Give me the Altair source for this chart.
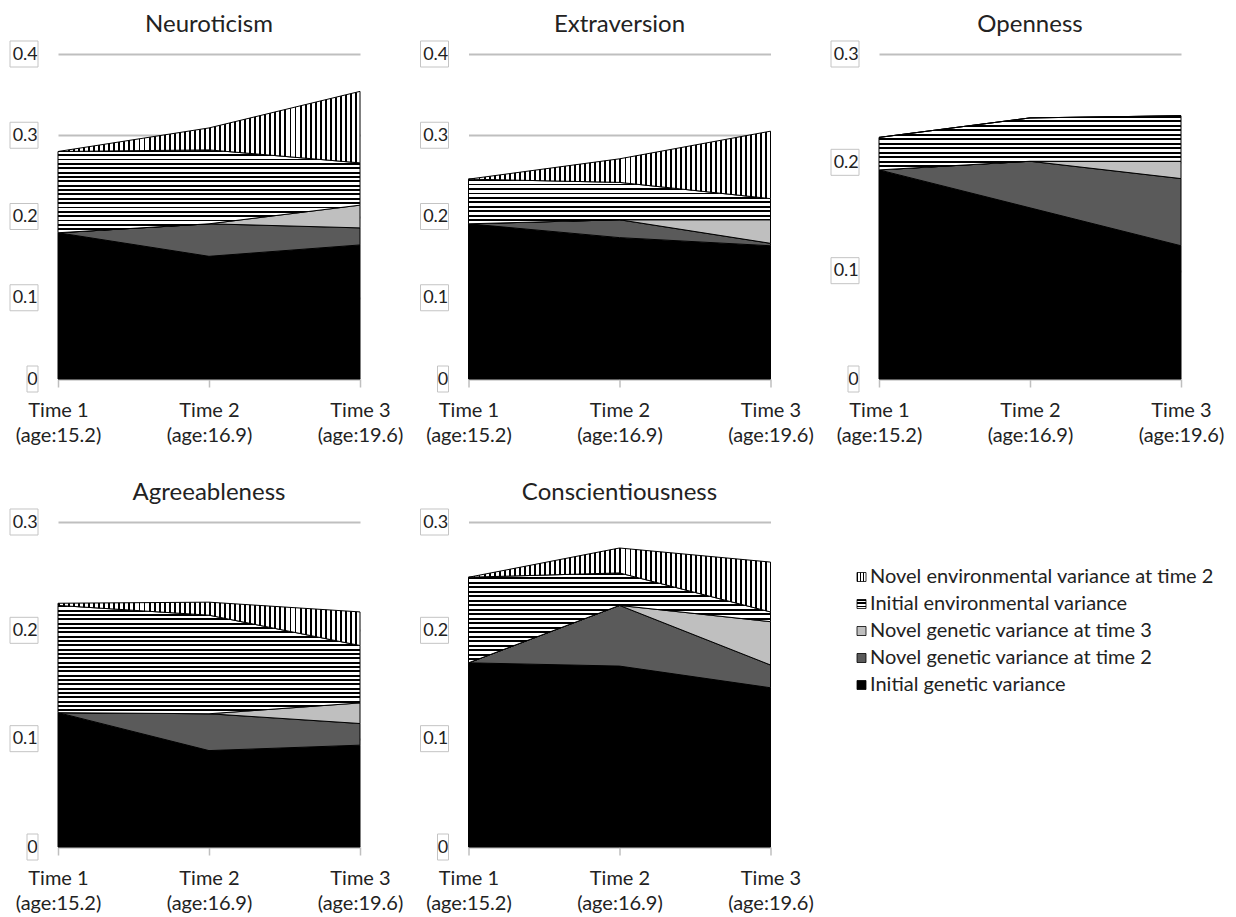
import altair as alt
import pandas as pd

# ---------------- data ----------------
TRAITS = ["Neuroticism", "Extraversion", "Openness", "Agreeableness", "Conscientiousness"]
TIMES = ["Time 1", "Time 2", "Time 3"]
AGES = ["(age:15.2)", "(age:16.9)", "(age:19.6)"]
SERIES = [
    "Initial genetic variance",
    "Novel genetic variance at time 2",
    "Novel genetic variance at time 3",
    "Initial environmental variance",
    "Novel environmental variance at time 2",
]
LEGEND_ORDER = SERIES[::-1]
Y_MAX = [0.4, 0.4, 0.3, 0.3, 0.3]
TICKS = [0, 0.1, 0.2, 0.3, 0.4]

# rows follow SERIES order, columns are Time 1..3
NEUROTICISM = [
    [0.180, 0.151, 0.165],
    [0.000, 0.040, 0.021],
    [0.000, 0.000, 0.028],
    [0.100, 0.091, 0.052],
    [0.000, 0.027, 0.088],
]
EXTRAVERSION = [
    [0.191, 0.174, 0.164],
    [0.000, 0.022, 0.003],
    [0.000, 0.000, 0.029],
    [0.055, 0.046, 0.026],
    [0.000, 0.029, 0.083],
]
OPENNESS = [
    [0.193, 0.158, 0.123],
    [0.000, 0.043, 0.062],
    [0.000, 0.000, 0.016],
    [0.030, 0.040, 0.042],
    [0.000, 0.000, 0.000],
]
AGREEABLENESS = [
    [0.124, 0.089, 0.094],
    [0.000, 0.034, 0.020],
    [0.000, 0.000, 0.019],
    [0.099, 0.091, 0.053],
    [0.002, 0.012, 0.031],
]
CONSCIENTIOUSNESS = [
    [0.170, 0.167, 0.147],
    [0.000, 0.056, 0.021],
    [0.000, 0.000, 0.040],
    [0.079, 0.030, 0.009],
    [0.000, 0.023, 0.046],
]
VALUES = [NEUROTICISM, EXTRAVERSION, OPENNESS, AGREEABLENESS, CONSCIENTIOUSNESS]

# ---------------- style ----------------
FONT = "Lato"
TXT = "#222222"
GRID = "#bfbfbf"
PW, PH = 302, 325
SOLID = ["#000000", "#5a5a5a", "#bfbfbf"]

XCATS = [f"{t}|{a}" for t, a in zip(TIMES, AGES)]

rows = []
for trait, vals in zip(TRAITS, VALUES):
    for ti, cat in enumerate(XCATS):
        lo = 0.0
        for si, s in enumerate(SERIES):
            hi = lo + vals[si][ti]
            rows.append(dict(trait=trait, time=cat, series=s, lo=lo, hi=hi))
            lo = hi
df = pd.DataFrame(rows)


def stripes(n, dark, vertical):
    stops = []
    for k in range(n):
        a = round(k / n, 5)
        b = round((k + dark) / n, 5)
        c = round((k + 1) / n, 5)
        stops += [
            {"offset": a, "color": "black"},
            {"offset": b, "color": "black"},
            {"offset": b, "color": "white"},
            {"offset": c, "color": "white"},
        ]
    g = {"gradient": "linear", "stops": stops, "x1": 0, "y1": 0, "x2": 0, "y2": 0}
    if vertical:
        g["x2"] = 1
    else:
        g["y2"] = 1
    return g


def panel(i):
    name = TRAITS[i]
    ymax = Y_MAX[i]
    d = df[df.trait == name]
    ticks = TICKS[: int(round(ymax * 10)) + 1]
    xaxis = alt.Axis(
        title=None, labelExpr="split(datum.label, '|')", labelAngle=0,
        labelFont=FONT, labelFontSize=20, labelColor=TXT, labelLineHeight=25,
        labelPadding=13, domainColor=GRID, domainWidth=1.5, tickColor=GRID,
        tickWidth=1.5, tickSize=8, grid=False,
    )
    yaxis = alt.Axis(
        title=None, values=ticks, format=".1~f", domain=False, ticks=False,
        tickSize=0, labelPadding=20.7, labelFont=FONT, labelFontSize=18,
        labelColor=TXT, grid=True, gridColor=GRID, gridWidth=2,
    )
    x = alt.X("time:O", sort=XCATS, scale=alt.Scale(type="point", padding=0), axis=xaxis)
    y = alt.Y("hi:Q", scale=alt.Scale(domain=[0, ymax], nice=False), axis=yaxis)
    px = PH / ymax
    layers = []
    for si, s in enumerate(SERIES):
        ds = d[d.series == s]
        if si < 3:
            fill = SOLID[si]
        elif si == 3:
            hpx = (ds.hi.max() - ds.lo.min()) * px
            fill = stripes(max(1, int(round(hpx / 4.4))), 0.42, False)
        else:
            fill = stripes(int(round(PW / 5.0)), 0.38, True)
        layers.append(
            alt.Chart(ds).mark_area(fill=fill, stroke="black", strokeWidth=1, opacity=1)
            .encode(x=x, y=y, y2="lo:Q")
        )
    tb = pd.DataFrame({"hi": [t for t in ticks if t > 0]})
    t0 = pd.DataFrame({"hi": [0]})
    layers.append(
        alt.Chart(tb).mark_point(shape="M-1,-0.929H1V0.929H-1Z", size=784, filled=False,
                                 stroke="#c4c4c4", strokeWidth=1, opacity=1)
        .encode(x=alt.value(-34), y=y)
    )
    layers.append(
        alt.Chart(t0).mark_point(shape="M-0.423,-1H0.423V1H-0.423Z", size=676, filled=False,
                                 stroke="#c4c4c4", strokeWidth=1, opacity=1)
        .encode(x=alt.value(-25.5), y=y)
    )
    layers.append(
        alt.Chart(pd.DataFrame({"t": [name]}))
        .mark_text(font=FONT, fontSize=24, color=TXT, align="center", baseline="alphabetic")
        .encode(x=alt.value(PW / 2), y=alt.value(-22), text="t:N")
    )
    return alt.layer(*layers).properties(width=PW, height=PH)


# legend
leg = pd.DataFrame({"name": LEGEND_ORDER})
ly = alt.Y("name:N", sort=LEGEND_ORDER, axis=None, scale=alt.Scale(type="point", padding=1))
leg_fills = {
    SERIES[0]: SOLID[0], SERIES[1]: SOLID[1], SERIES[2]: SOLID[2],
    SERIES[3]: stripes(3, 0.4, False), SERIES[4]: stripes(3, 0.4, True),
}
leg_layers = []
for s in LEGEND_ORDER:
    leg_layers.append(
        alt.Chart(leg).transform_filter(alt.datum.name == s)
        .mark_square(size=81, fill=leg_fills[s], stroke="black", strokeWidth=0.8, opacity=1,
                     yOffset=28)
        .encode(x=alt.value(-17.5), y=ly)
    )
leg_layers.append(
    alt.Chart(leg).mark_text(align="left", baseline="middle", font=FONT, fontSize=20, color=TXT,
                             yOffset=28)
    .encode(x=alt.value(-9), y=ly, text="name:N")
)
legend = alt.layer(*leg_layers).properties(width=PW, height=162)

panels = [panel(i) for i in range(5)]
chart = (
    alt.concat(*panels, legend, columns=3, spacing={"row": 143, "column": 108.5}, bounds="flush")
    .properties(padding={"left": 0, "top": 5, "right": 4, "bottom": 4})
    .configure_view(stroke=None)
)

chart.save("out.html", embed_options={"renderer": "svg", "actions": False})
